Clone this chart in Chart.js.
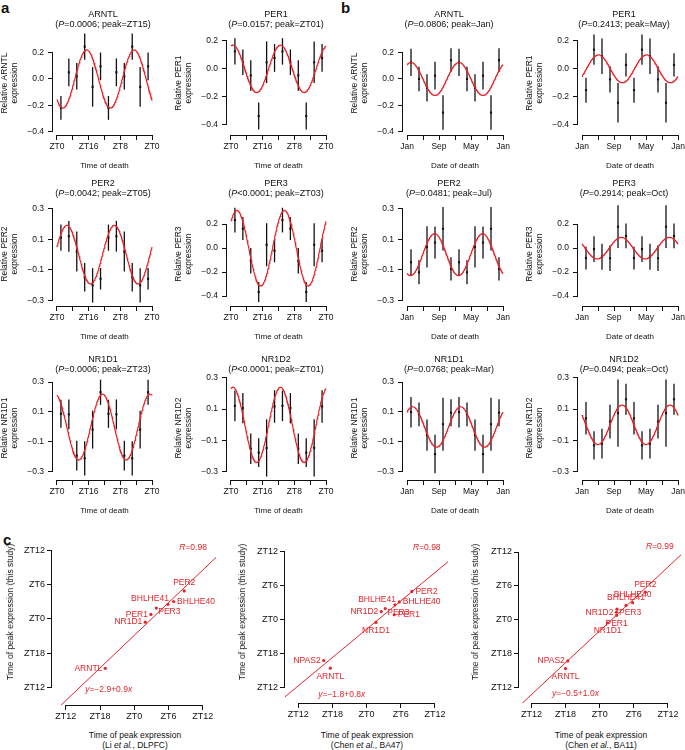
<!DOCTYPE html>
<html>
<head>
<meta charset="utf-8">
<title>Rhythms of clock gene expression</title>
<script src="https://cdn.jsdelivr.net/npm/chart.js@4.4.1/dist/chart.umd.min.js"></script>
<style>
  html, body { margin: 0; padding: 0; background: #fff; overflow: hidden; }
  #fig { position: relative; width: 685px; height: 750px; overflow: hidden;
         font-family: 'Liberation Sans', Arial, sans-serif; color: #111; }
  #fig canvas { position: absolute; }
  .t { position: absolute; white-space: nowrap; text-align: center; transform: translateX(-50%);
       font-size: 8.5px; line-height: 10px; }
  .t.head { font-size: 9px; line-height: 10.5px; }
  .panel { position: absolute; font-weight: bold; font-size: 15px; line-height: 15px; }
  .ytitle { position: absolute; white-space: nowrap; font-size: 8.5px; line-height: 10px;
            transform: translate(-50%, -50%) rotate(-90deg); }
</style>
</head>
<body>
<div id="fig">
  <div class="panel" style="left:1px;top:0px">a</div>
  <div class="panel" style="left:341px;top:0px">b</div>
  <div class="panel" style="left:3px;top:532px">c</div>
</div>
<script>
// ---------- data: panels a / b ----------
const genes = ['ARNTL', 'PER1', 'PER2', 'PER3', 'NR1D1', 'NR1D2'];

// time of death, hours (two cycles plotted)
const aTime = [2, 6, 10, 14, 18, 22, 26, 30, 34, 38, 42, 46];
const aTicks = [0, 8, 16, 24, 32, 40, 48];
const aTickLabels = ['ZT0', '', 'ZT16', '', 'ZT8', '', 'ZT0'];
// date of death, months from Jan (two cycles plotted)
const bMonth = [1, 3, 5, 7, 9, 11, 13, 15, 17, 19, 21, 23];
const bTicks = [0, 4, 8, 12, 16, 20, 24];
const bTickLabels = ['Jan', '', 'Sep', '', 'May', '', 'Jan'];

const yTicksEven = [-0.4, -0.2, 0, 0.2];
const yTicksOdd = [-0.3, -0.1, 0.1, 0.3];
const geneYTicks = [yTicksEven, yTicksEven, yTicksOdd, yTicksEven, yTicksOdd, yTicksOdd];
const geneYRange = [[-0.425, 0.3625], [-0.476, 0.271], [-0.334, 0.341],
                    [-0.483, 0.384], [-0.355, 0.340], [-0.353, 0.311]];

const aMean = [
  [-0.22, 0.05, 0.02, 0.245, -0.06, 0.095, -0.22, 0.05, 0.02, 0.245, -0.06, 0.095],
  [0.125, 0.047, -0.048, -0.34, 0.047, 0.078, 0.125, 0.047, -0.048, -0.34, 0.047, 0.078],
  [0.11, 0.119, 0.02, -0.147, -0.2, -0.157, 0.11, 0.119, 0.02, -0.147, -0.2, -0.157],
  [0.234, 0.163, -0.105, -0.366, 0.028, -0.022, 0.234, 0.163, -0.105, -0.366, 0.028, -0.022],
  [0.088, 0.084, -0.192, -0.21, -0.018, 0.232, 0.088, 0.084, -0.192, -0.21, -0.018, 0.232],
  [0.121, 0.106, -0.153, -0.178, -0.148, 0.117, 0.121, 0.106, -0.153, -0.178, -0.148, 0.117]
];
const aSE = [
  [0.09, 0.105, 0.1, 0.1, 0.15, 0.105, 0.09, 0.105, 0.1, 0.1, 0.15, 0.105],
  [0.095, 0.092, 0.109, 0.097, 0.15, 0.1, 0.095, 0.092, 0.109, 0.097, 0.15, 0.1],
  [0.085, 0.1, 0.13, 0.093, 0.112, 0.07, 0.085, 0.1, 0.13, 0.093, 0.112, 0.07],
  [0.103, 0.096, 0.107, 0.083, 0.18, 0.096, 0.103, 0.096, 0.107, 0.083, 0.18, 0.096],
  [0.094, 0.1, 0.1, 0.115, 0.127, 0.084, 0.094, 0.1, 0.1, 0.115, 0.127, 0.084],
  [0.098, 0.097, 0.097, 0.092, 0.183, 0.104, 0.098, 0.097, 0.097, 0.092, 0.183, 0.104]
];
const bMean = [
  [0.125, 0.0, -0.068, 0.025, -0.255, 0.142, 0.125, 0.0, -0.068, 0.025, -0.255, 0.142],
  [-0.154, 0.138, 0.09, -0.076, -0.244, 0.028, -0.154, 0.138, 0.09, -0.076, -0.244, 0.028],
  [-0.05, -0.115, 0.05, 0.078, 0.168, -0.093, -0.05, -0.115, 0.05, 0.078, 0.168, -0.093],
  [-0.083, -0.008, -0.072, -0.085, 0.179, 0.102, -0.083, -0.008, -0.072, -0.085, 0.179, 0.102],
  [0.099, 0.084, -0.055, -0.181, 0.018, 0.095, 0.099, 0.084, -0.055, -0.181, 0.018, 0.095],
  [0.041, -0.132, -0.121, 0.02, 0.075, 0.163, 0.041, -0.132, -0.121, 0.02, 0.075, 0.163]
];
const bSE = [
  [0.103, 0.093, 0.104, 0.106, 0.131, 0.09, 0.103, 0.093, 0.104, 0.106, 0.131, 0.09],
  [0.09, 0.109, 0.127, 0.095, 0.142, 0.083, 0.09, 0.109, 0.127, 0.095, 0.142, 0.083],
  [0.084, 0.078, 0.134, 0.104, 0.141, 0.075, 0.084, 0.078, 0.134, 0.104, 0.141, 0.075],
  [0.095, 0.107, 0.109, 0.106, 0.178, 0.103, 0.095, 0.107, 0.109, 0.106, 0.178, 0.103],
  [0.102, 0.08, 0.105, 0.129, 0.177, 0.09, 0.102, 0.08, 0.105, 0.129, 0.177, 0.09],
  [0.104, 0.09, 0.095, 0.108, 0.215, 0.099, 0.104, 0.09, 0.095, 0.108, 0.215, 0.099]
];
// cosinor fits (amplitude, peak position)
const aAmp = [0.22, 0.17, 0.19, 0.315, 0.22, 0.24];
const aPeak = [15, 1, 5, 3, 23, 1];            // hours
const bAmp = [0.125, 0.1, 0.136, 0.09, 0.135, 0.126];
const bPeak = [1.0, 4.1, 6.9, 9.8, 1.4, 10.0];  // months from Jan
const aP = ['=0.0006', '=0.0157', '=0.0042', '<0.0001', '=0.0006', '<0.0001'];
const aPeakText = ['ZT15', 'ZT01', 'ZT05', 'ZT03', 'ZT23', 'ZT01'];
const bP = ['=0.0806', '=0.2413', '=0.0481', '=0.2914', '=0.0768', '=0.0494'];
const bPeakText = ['Jan', 'May', 'Jul', 'Oct', 'Mar', 'Oct'];

// ---------- data: panel c (hours relative to ZT0) ----------
const cGenes = ['ARNTL', 'NPAS2', 'NR1D1', 'NR1D2', 'PER1', 'PER2', 'PER3', 'BHLHE40', 'BHLHE41'];
const cThisStudy = [-8.6, -7.25, -0.55, 1.35, 0.8, 4.9, 1.9, 3.05, 2.55];
const cLi = [-5.07, null, 1.92, null, 2.91, 8.74, 3.85, 6.88, 5.88];
const cChenBA47 = [-6.37, -7.54, 1.65, 2.58, 4.86, 7.96, 3.28, 5.74, 4.98];
const cChenBA11 = [-6.0, -5.6, 1.4, 2.95, 2.98, 8.02, 3.05, 5.79, 4.63];
const cFit = [[-2.85, 0.95], [-1.75, 0.83], [-1.94, 0.94]];   // intercept, slope
const cR = ['0.98', '0.98', '0.99'];
const cEq = [['\u22122.9', '0.9'], ['\u22121.8', '0.8'], ['\u22120.5', '1.0']];
const cTicks = [-12, -6, 0, 6, 12];
const cTickLabels = ['ZT12', 'ZT18', 'ZT0', 'ZT6', 'ZT12'];
const cRef = [['Li ', 'et al.', ', DLPFC'], ['Chen ', 'et al.', ', BA47'], ['Chen ', 'et al.', ', BA11']];

// ---------- layout / style ----------
const RED = '#e3242b';
const INK = '#111';
const FONT = "'Liberation Sans', Arial, Helvetica, sans-serif";
Chart.defaults.font.family = FONT;
Chart.defaults.color = INK;

const colLeft = [53, 227, 403, 578];
const colWidth = [103, 103, 104, 104];
const colPadR = [14, 14, 14, 8];
const titleX = [103, 276, 449, 624];
const rowTop = [30, 201, 375];
const titleTop = [8.5, 177.5, 353.5];
const AREA_H = 105, Y_W = 53, X_H = 36, PAD_T = 8;

const cArea = [
  { l: 52, t: 537, w: 164, h: 168, xmin: -14.4, ymin: -15.0 },
  { l: 285, t: 538, w: 163, h: 165, xmin: -14.33, ymin: -14.73 },
  { l: 519, t: 539, w: 162, h: 164, xmin: -14.18, ymin: -14.69 }
];
const cMax = 14.3;
const cRPos = [[12.7, 12.4], [13.0, 12.6], [13.0, 12.9]];
const cEqPos = [[-8.6, -12.4], [-8.5, -13.3], [-8.4, -13.1]];
const cXTitle = [135, 367, 601];
const cYTitle = [10, 242, 475];
const cLabelPos = [
  ['l', null, 'l', null, 'l', 't', 'br', 'r', 'tl'],
  ['b', 'l', 'b', 'l', 'r', 'r', 'br', 'r', 'tl'],
  ['b', 'l', 'b', 'l', 'b', 't', 'br', 't', 't']
];

const fig = document.getElementById('fig');

function addCanvas(left, top, w, h) {
  const c = document.createElement('canvas');
  c.width = w; c.height = h;
  c.style.left = left + 'px'; c.style.top = top + 'px';
  c.style.width = w + 'px'; c.style.height = h + 'px';
  fig.appendChild(c);
  return c;
}
function addText(html, x, y, cls) {
  const d = document.createElement('div');
  d.className = cls || 't';
  d.style.left = x + 'px'; d.style.top = y + 'px';
  d.innerHTML = html;
  fig.appendChild(d);
}
const fmtY = v => (v < 0 ? '\u2212' : '') + Math.abs(v).toFixed(1);

// R-style axis lines spanning first..last tick
const rAxes = {
  id: 'rAxes',
  afterDraw(chart) {
    const { ctx, chartArea, scales: { x, y } } = chart;
    const xt = x.ticks, yt = y.ticks;
    ctx.save();
    ctx.strokeStyle = INK; ctx.lineWidth = 1;
    ctx.beginPath();
    const by = Math.round(chartArea.bottom) + 0.5;
    ctx.moveTo(x.getPixelForValue(xt[0].value), by);
    ctx.lineTo(x.getPixelForValue(xt[xt.length - 1].value), by);
    const lx = Math.round(chartArea.left) - 0.5;
    ctx.moveTo(lx, y.getPixelForValue(yt[0].value));
    ctx.lineTo(lx, y.getPixelForValue(yt[yt.length - 1].value));
    ctx.stroke();
    ctx.restore();
  }
};

// vertical error bars (mean +/- SE)
const errorBars = {
  id: 'errorBars',
  beforeDatasetsDraw(chart) {
    const { ctx, scales: { y } } = chart;
    chart.data.datasets.forEach((ds, di) => {
      if (!ds.se) return;
      const meta = chart.getDatasetMeta(di);
      ctx.save();
      ctx.strokeStyle = INK; ctx.lineWidth = 1.3;
      meta.data.forEach((pt, i) => {
        const m = ds.data[i].y;
        ctx.beginPath();
        ctx.moveTo(pt.x, y.getPixelForValue(m + ds.se[i]));
        ctx.lineTo(pt.x, y.getPixelForValue(m - ds.se[i]));
        ctx.stroke();
      });
      ctx.restore();
    });
  }
};

function axisCommon(ticks, labels, size, pad) {
  return {
    type: 'linear',
    afterBuildTicks: s => { s.ticks = ticks.map(v => ({ value: v })); },
    ticks: {
      autoSkip: false, maxRotation: 0, padding: pad, font: { size: size }, color: INK,
      callback: (v, i) => labels ? labels[i] : fmtY(v)
    },
    grid: { drawOnChartArea: false, drawTicks: true, tickLength: 5, color: INK, lineWidth: 1 },
    border: { display: false }
  };
}

function cosinor(amp, peak, period, end) {
  const pts = [];
  for (let i = 0; i <= 240; i++) {
    const t = end * i / 240;
    pts.push({ x: t, y: amp * Math.cos(2 * Math.PI * (t - peak) / period) });
  }
  return pts;
}

function rhythmPanel(g, isB) {
  const row = Math.floor(g / 2), col = (g % 2) + (isB ? 2 : 0);
  const left = colLeft[col], top = rowTop[row], w = colWidth[col];
  const cw = Y_W + w + colPadR[col], ch = PAD_T + AREA_H + X_H;
  const canvas = addCanvas(left - Y_W, top - PAD_T, cw, ch);

  const xs = isB ? bMonth : aTime;
  const mean = isB ? bMean[g] : aMean[g];
  const se = isB ? bSE[g] : aSE[g];
  const curve = isB ? cosinor(bAmp[g], bPeak[g], 12, 24) : cosinor(aAmp[g], aPeak[g], 24, 48);

  const xAxis = axisCommon(isB ? bTicks : aTicks, isB ? bTickLabels : aTickLabels, 8.5, 2);
  xAxis.min = isB ? -1 : -2; xAxis.max = isB ? 25 : 50;
  xAxis.title = { display: true, text: isB ? 'Date of death' : 'Time of death',
                  font: { size: 8 }, padding: { top: 0, bottom: 0 }, color: INK };
  xAxis.afterFit = s => { s.height = X_H; };

  const yAxis = axisCommon(geneYTicks[g], null, 8.5, 4);
  yAxis.min = geneYRange[g][0]; yAxis.max = geneYRange[g][1];
  yAxis.title = { display: true, text: ['Relative ' + genes[g], 'expression'],
                  font: { size: 8.5, lineHeight: 1.15 }, padding: { top: 0, bottom: 0 }, color: INK };
  yAxis.afterFit = s => { s.width = Y_W; };

  new Chart(canvas, {
    type: 'scatter',
    data: {
      datasets: [
        { type: 'line', data: curve, borderColor: RED, borderWidth: 1.2, pointRadius: 0, tension: 0 },
        { data: xs.map((x, i) => ({ x: x, y: mean[i] })), se: se,
          pointStyle: 'rect', pointRadius: 1.5, backgroundColor: INK, borderWidth: 0 }
      ]
    },
    options: {
      responsive: false, animation: false, devicePixelRatio: 1, events: [],
      layout: { padding: { left: 0, top: PAD_T, right: colPadR[col], bottom: 0 } },
      plugins: { legend: { display: false }, tooltip: { enabled: false } },
      scales: { x: xAxis, y: yAxis }
    },
    plugins: [errorBars, rAxes]
  });

  const p = isB ? bP[g] : aP[g];
  const pk = isB ? bPeakText[g] : aPeakText[g];
  addText(genes[g] + '<br>(<i>P</i>' + p.replace('<', '&lt;') + '; peak=' + pk + ')',
          titleX[col], titleTop[row], 't head');
}

for (let g = 0; g < genes.length; g++) {
  rhythmPanel(g, false);
  rhythmPanel(g, true);
}

// ---------- panel c ----------
function richText(ctx, parts, x, y, align) {
  const f = it => (it ? 'italic ' : '') + '8.5px ' + FONT;
  let total = 0;
  parts.forEach(([t, it]) => { ctx.font = f(it); total += ctx.measureText(t).width; });
  let cx = align === 'right' ? x - total : x;
  ctx.textAlign = 'left';
  parts.forEach(([t, it]) => { ctx.font = f(it); ctx.fillText(t, cx, y); cx += ctx.measureText(t).width; });
}

function comparePanel(k, refPeaks) {
  const a = cArea[k];
  const Wc = 40, padR = 12, Hc = 20;
  const canvas = addCanvas(a.l - Wc, a.t - PAD_T, Wc + a.w + padR, PAD_T + a.h + Hc);
  const idx = cGenes.map((g, i) => i).filter(i => refPeaks[i] !== null);
  const fit = cFit[k];

  const xAxis = axisCommon(cTicks, cTickLabels, 9, 1.3);
  xAxis.min = a.xmin; xAxis.max = cMax;
  xAxis.afterFit = s => { s.height = Hc; };
  const yAxis = axisCommon(cTicks, cTickLabels, 9, 2);
  yAxis.min = a.ymin; yAxis.max = cMax;
  yAxis.afterFit = s => { s.width = Wc; };

  const labels = {
    id: 'pointLabels',
    afterDatasetsDraw(chart) {
      const { ctx, scales: { x, y } } = chart;
      const meta = chart.getDatasetMeta(1);
      ctx.save();
      ctx.fillStyle = RED;
      ctx.font = '8.5px ' + FONT;
      ctx.textBaseline = 'middle';
      idx.forEach((gi, j) => {
        const pt = meta.data[j], pos = cLabelPos[k][gi], txt = cGenes[gi];
        let tx = pt.x, ty = pt.y;
        if (pos === 'l') { ctx.textAlign = 'right'; tx -= 3; }
        else if (pos === 'r') { ctx.textAlign = 'left'; tx += 3.5; }
        else if (pos === 't') { ctx.textAlign = 'center'; ty -= 8; }
        else if (pos === 'b') { ctx.textAlign = 'center'; ty += 8; }
        else if (pos === 'tl') { ctx.textAlign = 'right'; tx += 1; ty -= 5.5; }
        else if (pos === 'br') { ctx.textAlign = 'left'; tx += 2; ty += 4; }
        ctx.fillText(txt, tx, ty);
      });
      richText(ctx, [['R', true], ['=' + cR[k], false]],
               x.getPixelForValue(cRPos[k][0]), y.getPixelForValue(cRPos[k][1]), 'right');
      richText(ctx, [['y', true], ['=' + cEq[k][0] + '+' + cEq[k][1], false], ['x', true]],
               x.getPixelForValue(cEqPos[k][0]), y.getPixelForValue(cEqPos[k][1]), 'left');
      ctx.restore();
    }
  };

  new Chart(canvas, {
    type: 'scatter',
    data: {
      datasets: [
        { type: 'line', data: [{ x: a.xmin, y: fit[0] + fit[1] * a.xmin }, { x: cMax, y: fit[0] + fit[1] * cMax }],
          borderColor: RED, borderWidth: 1, pointRadius: 0 },
        { data: idx.map(i => ({ x: refPeaks[i], y: cThisStudy[i] })),
          pointRadius: 1.6, backgroundColor: RED, borderWidth: 0 }
      ]
    },
    options: {
      responsive: false, animation: false, devicePixelRatio: 1, events: [],
      layout: { padding: { left: 0, top: PAD_T, right: padR, bottom: 0 } },
      plugins: { legend: { display: false }, tooltip: { enabled: false } },
      scales: { x: xAxis, y: yAxis }
    },
    plugins: [rAxes, labels]
  });

  addText('Time of peak expression<br>(' + cRef[k][0] + '<i>' + cRef[k][1] + '</i>' + cRef[k][2] + ')',
          cXTitle[k], 730);
  addText('Time of peak expression (this study)', cYTitle[k], 612, 'ytitle');
}

comparePanel(0, cLi);
comparePanel(1, cChenBA47);
comparePanel(2, cChenBA11);
</script>
</body>
</html>
